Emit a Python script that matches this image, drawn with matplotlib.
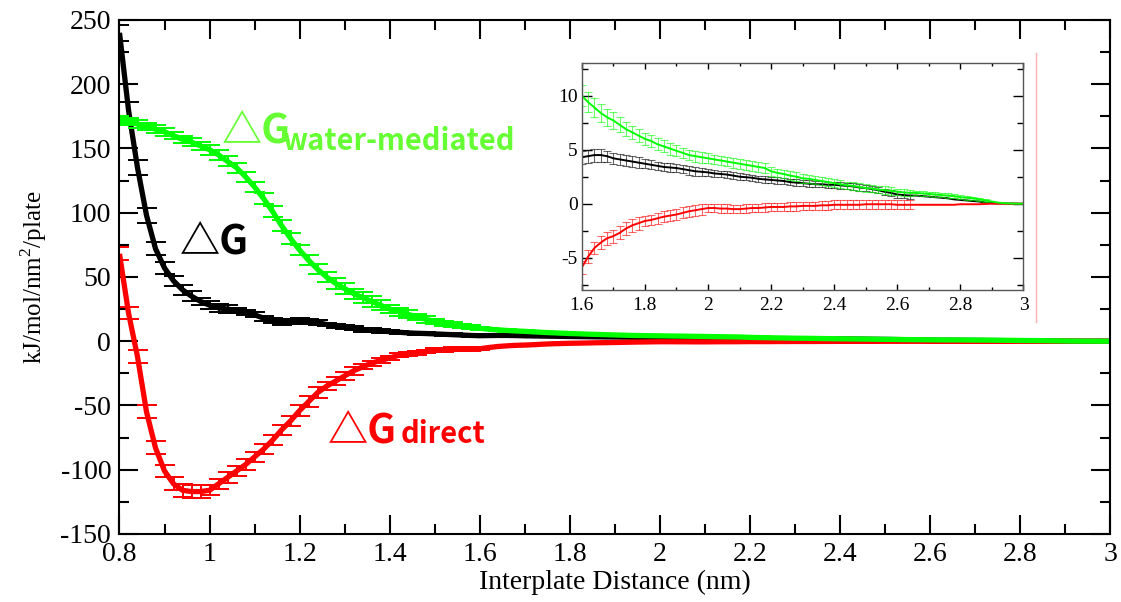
## Free energy vs interplate distance, with zoomed inset
import numpy as np
import matplotlib
matplotlib.use('Agg')
from matplotlib import pyplot as plt
from matplotlib.ticker import MultipleLocator

plt.rcParams['font.family'] = ['Liberation Serif', 'DejaVu Serif']
plt.rcParams['mathtext.fontset'] = 'custom'
plt.rcParams['mathtext.rm'] = 'Liberation Serif'

## interplate distance (nm), one point every 0.02 nm
dist = np.round(np.arange(0.80, 3.0001, 0.02), 2)

## total dG (black)
dg_total = [240, 180, 135, 98, 72, 57, 47, 40, 35, 31,
            28, 26, 25, 24, 22.5, 20.5, 18, 16, 15, 15.5,
            16, 15.5, 14.5, 13, 12, 11, 10, 9, 8.5, 8,
            7.5, 7, 6.5, 6.2, 6, 5.7, 5.4, 5.1, 4.8, 4.5,
            4.3, 4.4, 4.5, 4.5, 4.4, 4.2, 4.1, 4.0, 3.9, 3.8,
            3.7, 3.6, 3.5, 3.4, 3.35, 3.3, 3.2, 3.1, 3.0, 2.95,
            2.9, 2.8, 2.75, 2.7, 2.6, 2.5, 2.45, 2.4, 2.3, 2.25,
            2.2, 2.15, 2.1, 2.0, 1.95, 1.9, 1.85, 1.8, 1.8, 1.75,
            1.75, 1.7, 1.65, 1.6, 1.5, 1.45, 1.35, 1.25, 1.1, 1.0,
            0.85, 0.8, 0.75, 0.75, 0.7, 0.65, 0.6, 0.55, 0.5, 0.4,
            0.35, 0.3, 0.25, 0.2, 0.1, 0.05, 0.03, 0.02, 0.01, 0.0,
            0.0]
dg_total_err = [6, 6, 6, 6, 5, 5, 4, 4, 4, 3,
                3, 3, 3, 2, 2, 2, 2, 2, 2, 2,
                2, 2, 2, 1.5, 1.5, 1.5, 1.5, 1.5, 1.5, 1.5,
                1, 1, 1, 1, 1, 1, 1, 1, 1, 1,
                0.6, 0.6, 0.6, 0.6, 0.5, 0.5, 0.5, 0.5, 0.5, 0.5,
                0.4, 0.4, 0.4, 0.4, 0.4, 0.4, 0.4, 0.4, 0.4, 0.4,
                0.3, 0.3, 0.3, 0.3, 0.3, 0.3, 0.3, 0.3, 0.3, 0.3,
                0.3, 0.3, 0.3, 0.3, 0.3, 0.3, 0.3, 0.3, 0.3, 0.3,
                0.3, 0.3, 0.3, 0.3, 0.3, 0.3, 0.3, 0.3, 0.3, 0.3,
                0.3, 0.3, 0.3, 0, 0, 0, 0, 0, 0, 0,
                0, 0, 0, 0, 0, 0, 0, 0, 0, 0,
                0]

## direct dG (red)
dg_direct = [68, 22, -12, -55, -83, -101, -111, -116, -117, -117,
             -116, -111, -106, -101, -96, -90, -84, -77, -69, -62,
             -54, -47, -40, -35, -31, -27, -23, -20, -17, -15,
             -13, -11, -10, -9, -8, -7, -6.5, -6.2, -6, -6,
             -5.9, -4.9, -4.1, -3.6, -3.2, -3.0, -2.7, -2.3, -2.0, -1.8,
             -1.6, -1.5, -1.35, -1.2, -1.1, -1.0, -0.85, -0.7, -0.6, -0.5,
             -0.4, -0.4, -0.45, -0.45, -0.5, -0.5, -0.45, -0.4, -0.4, -0.35,
             -0.3, -0.3, -0.3, -0.25, -0.25, -0.2, -0.2, -0.2, -0.15, -0.15,
             -0.1, -0.1, -0.1, -0.1, -0.1, -0.05, -0.05, -0.05, -0.05, -0.05,
             -0.1, -0.1, -0.1, -0.1, -0.1, -0.1, -0.1, -0.1, -0.1, -0.1,
             -0.05, -0.05, -0.05, -0.05, -0.02, 0, 0, 0, 0, 0,
             0]
dg_direct_err = [5, 5, 5, 5, 5, 5, 5, 5, 5, 5,
                 4, 4, 4, 4, 4, 4, 4, 4, 4, 4,
                 4, 4, 4, 3, 3, 3, 3, 2, 2, 2,
                 1.5, 1.5, 1.5, 1.5, 1.5, 1.5, 1.5, 1.5, 1.5, 1.5,
                 0.6, 0.6, 0.6, 0.6, 0.6, 0.6, 0.6, 0.6, 0.6, 0.6,
                 0.5, 0.5, 0.5, 0.5, 0.5, 0.5, 0.5, 0.5, 0.5, 0.5,
                 0.4, 0.4, 0.4, 0.4, 0.4, 0.4, 0.4, 0.4, 0.4, 0.4,
                 0.4, 0.4, 0.4, 0.4, 0.4, 0.4, 0.4, 0.4, 0.4, 0.4,
                 0.4, 0.4, 0.4, 0.4, 0.4, 0.4, 0.4, 0.4, 0.4, 0.4,
                 0.4, 0.4, 0.4, 0, 0, 0, 0, 0, 0, 0,
                 0, 0, 0, 0, 0, 0, 0, 0, 0, 0,
                 0]

## water-mediated dG (green)
dg_water = [172, 171, 169, 167, 165, 163, 160, 157, 155, 152,
            149, 145, 140, 135, 128, 120, 111, 101, 90, 80,
            71, 63, 56, 50, 45, 41, 37, 34, 31, 28,
            25, 23, 21, 19, 17, 15.5, 14, 13, 12, 11,
            10.0, 9.4, 8.9, 8.4, 8.0, 7.7, 7.3, 6.9, 6.6, 6.3,
            6.0, 5.8, 5.5, 5.3, 5.1, 4.9, 4.7, 4.5, 4.4, 4.3,
            4.2, 4.1, 4.0, 3.9, 3.8, 3.7, 3.6, 3.5, 3.4, 3.3,
            3.0, 2.85, 2.75, 2.6, 2.5, 2.35, 2.3, 2.2, 2.1, 2.0,
            1.9, 1.8, 1.7, 1.65, 1.55, 1.45, 1.4, 1.3, 1.25, 1.2,
            1.1, 1.05, 1.0, 1.0, 0.95, 0.9, 0.85, 0.8, 0.75, 0.7,
            0.6, 0.55, 0.5, 0.4, 0.3, 0.2, 0.1, 0.05, 0.02, 0.0,
            0.0]
dg_water_err = [3, 3, 3, 3, 3, 3, 3, 3, 3, 3,
                4, 4, 4, 4, 4, 4, 4, 4, 4, 4,
                4, 4, 4, 4, 4, 4, 4, 4, 4, 4,
                3, 3, 3, 2.5, 2.5, 2, 2, 2, 1.5, 1.5,
                1.0, 0.95, 0.9, 0.85, 0.8, 0.75, 0.7, 0.65, 0.6, 0.6,
                0.55, 0.55, 0.55, 0.55, 0.55, 0.5, 0.5, 0.5, 0.5, 0.5,
                0.45, 0.45, 0.45, 0.45, 0.45, 0.45, 0.45, 0.45, 0.45, 0.45,
                0.4, 0.4, 0.4, 0.4, 0.4, 0.4, 0.4, 0.4, 0.4, 0.4,
                0.35, 0.35, 0.35, 0.35, 0.35, 0.35, 0.35, 0.35, 0.35, 0.35,
                0.3, 0.3, 0.3, 0.2, 0.2, 0.2, 0.2, 0.2, 0.2, 0.2,
                0.2, 0.2, 0.15, 0.15, 0.1, 0, 0, 0, 0, 0,
                0]

series = [(dg_total, dg_total_err, 'black'),
          (dg_direct, dg_direct_err, '#ff0000'),
          (dg_water, dg_water_err, '#00ff00')]


def draw(ax, y, err, color, lw, cap, capw, elw, alpha=1.0):
    y = np.asarray(y, dtype=float)
    err = np.asarray(err, dtype=float)
    ax.plot(dist, y, color=color, lw=lw, solid_capstyle='butt')
    m = err > 0
    ax.errorbar(dist[m], y[m], yerr=err[m], fmt='none', ecolor=color,
                elinewidth=elw, capsize=cap, capthick=capw, alpha=alpha)


def style_axis(ax, lsize, xmaj, xmin, ymaj, ymin, lx, ly, spine_w):
    ax.xaxis.set_major_locator(MultipleLocator(xmaj))
    ax.xaxis.set_minor_locator(MultipleLocator(xmin))
    ax.yaxis.set_major_locator(MultipleLocator(ymaj))
    ax.yaxis.set_minor_locator(MultipleLocator(ymin))
    ax.tick_params(which='both', direction='in', top=True, right=True,
                   width=spine_w, labelsize=lsize)
    ax.tick_params(axis='x', which='major', length=lx[0])
    ax.tick_params(axis='x', which='minor', length=lx[1])
    ax.tick_params(axis='y', which='major', length=ly[0])
    ax.tick_params(axis='y', which='minor', length=ly[1])
    for s in ax.spines.values():
        s.set_linewidth(spine_w)


fig = plt.figure(figsize=(11.21, 6.02), dpi=100)
ax = fig.add_axes([0.1066, 0.113, 0.8836, 0.8538])

for y, err, c in series:
    draw(ax, y, err, c, lw=3.8, cap=7, capw=1.4, elw=1.4)

ax.set_xlim(0.8, 3.0)
ax.set_ylim(-150, 250)
style_axis(ax, 20, 0.2, 0.1, 50, 25, (14, 7), (14, 7), 1.5)
ax.tick_params(axis='x', pad=6)
ax.tick_params(axis='y', pad=6)
ax.set_xticklabels([f'{v:g}' for v in ax.get_xticks()])
ax.set_yticklabels([f'{v:g}' for v in ax.get_yticks()])
ax.set_xlabel('Interplate Distance (nm)', fontsize=20, labelpad=2)
ax.set_ylabel(r'kJ/mol/nm$^{\mathregular{2}}$/plate', fontsize=18, labelpad=8)

## curve labels
lab = dict(family=['Noto Sans CJK KR', 'DejaVu Sans'], fontweight='bold',
           va='baseline', ha='left')
ax.text(1.028, 155, '\u25b3G', color='#66ff33', fontsize=29, **lab)
ax.text(1.161, 149, 'water-mediated', color='#66ff33', fontsize=21, **lab)
ax.text(0.934, 68.5, '\u25b3G', color='black', fontsize=29, **lab)
ax.text(1.263, -78.6, '\u25b3G', color='#ff0000', fontsize=29, **lab)
ax.text(1.425, -79.4, 'direct', color='#ff0000', fontsize=21, **lab)

## faint pink line right of the inset (scan artifact)
ax.axvline(2.836, ymin=0.412, ymax=0.936, color='#ffb0b0', lw=1)

## inset
axi = fig.add_axes([0.519, 0.518, 0.394, 0.377])
for y, err, c in series:
    draw(axi, y, err, c, lw=1.4, cap=3, capw=0.8, elw=0.8, alpha=0.6)
axi.set_xlim(1.6, 3.0)
axi.set_ylim(-8, 13)
style_axis(axi, 14, 0.2, 0.1, 5, 2.5, (4, 2), (7, 4), 1.0)
axi.tick_params(axis='x', pad=5)
axi.tick_params(axis='y', pad=3)
axi.set_xticklabels([f'{v:g}' for v in axi.get_xticks()])
axi.set_yticklabels([f'{v:g}' for v in axi.get_yticks()])
for s in axi.spines.values():
    s.set_color('#555555')

fig.savefig('out.png', dpi=100)
